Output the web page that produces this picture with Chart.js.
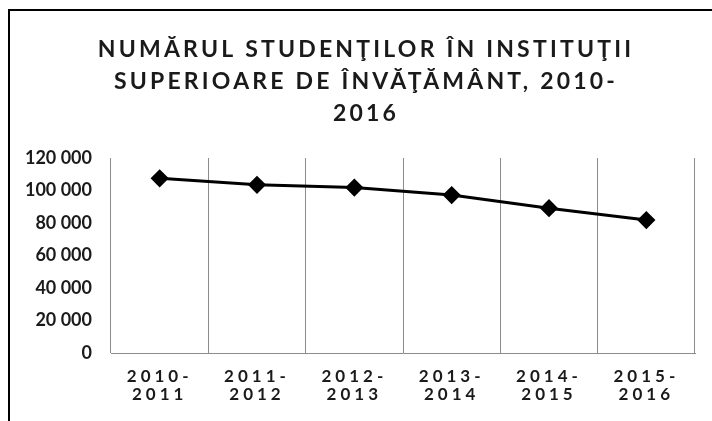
<!DOCTYPE html>
<html>
<head>
<meta charset="utf-8">
<script src="https://cdn.jsdelivr.net/npm/chart.js@4"></script>
<style>
  html, body { margin: 0; padding: 0; background: #fff; overflow: hidden; }
  #wrap { position: relative; width: 712px; height: 421px; }
  #frame { position: absolute; left: 8px; top: 9px; width: 800px; height: 500px;
           border-left: 2px solid #000; border-top: 2px solid #000; pointer-events: none; }
</style>
</head>
<body>
<div id="wrap">
  <canvas id="myChart" width="712" height="421"></canvas>
  <div id="frame"></div>
</div>
<script>
// Date
const titleLines = ['NUMĂRUL STUDENŢILOR ÎN INSTITUŢII', 'SUPERIOARE DE ÎNVĂŢĂMÂNT, 2010-', '2016'];
const categories = [['2010-', '2011'], ['2011-', '2012'], ['2012-', '2013'], ['2013-', '2014'], ['2014-', '2015'], ['2015-', '2016']];
const students = [107500, 103500, 101800, 97200, 89100, 81800];
const yTickValues = [0, 20000, 40000, 60000, 80000, 100000, 120000];
const yTickLabels = ['0', '20 000', '40 000', '60 000', '80 000', '100 000', '120 000'];

const FONT = 'Lato';
const GRID = '#8c8c8c';

// spatiere intre litere pentru titlu si etichetele axei X
const spacingPlugin = {
  id: 'spacing',
  beforeDraw(chart) { chart.ctx.letterSpacing = '0px'; },
  afterDatasetsDraw(chart) { chart.ctx.letterSpacing = '4px'; },
  afterDraw(chart) {
    const ctx = chart.ctx;
    ctx.save();
    ctx.letterSpacing = '3.2px';
    ctx.font = 'bold 23px ' + FONT;
    ctx.fillStyle = '#1a1a1a';
    ctx.textAlign = 'center';
    ctx.textBaseline = 'alphabetic';
    titleLines.forEach((t, i) => ctx.fillText(t, 366, 57 + i * 32));
    ctx.restore();
    ctx.letterSpacing = '0px';
  }
};

let ctx = document.getElementById('myChart').getContext('2d');
let myChart = new Chart(ctx, {
  type: 'line',
  data: {
    labels: categories,
    datasets: [{
      data: students,
      borderColor: '#000',
      backgroundColor: '#000',
      borderWidth: 3,
      pointStyle: 'rectRot',
      pointRadius: 7,
      pointHoverRadius: 7,
      tension: 0
    }]
  },
  options: {
    responsive: false,
    animation: false,
    layout: { padding: { left: 0, top: 158, right: 17, bottom: 0 } },
    plugins: { legend: { display: false }, title: { display: false }, tooltip: { enabled: false } },
    scales: {
      x: {
        offset: true,
        grid: { display: true, offset: true, color: GRID, lineWidth: 1, drawTicks: false },
        border: { display: true, color: GRID, width: 1 },
        ticks: { z: 1, color: '#1a1a1a', padding: 15, maxRotation: 0, autoSkip: false,
                 font: { family: FONT, size: 17, weight: 'bold', lineHeight: 1.05 } },
        afterFit(s) { s.height = 68; }
      },
      y: {
        min: 0,
        max: 120000,
        afterBuildTicks(s) { s.ticks = yTickValues.map(v => ({ value: v })); },
        grid: { display: false, drawTicks: false },
        border: { display: false },
        ticks: { color: '#1a1a1a', padding: 19,
                 font: { family: FONT, size: 18, weight: 'bold' },
                 callback: (v, i) => yTickLabels[i] },
        afterFit(s) { s.width = 111; }
      }
    }
  },
  plugins: [spacingPlugin]
});
</script>
</body>
</html>
